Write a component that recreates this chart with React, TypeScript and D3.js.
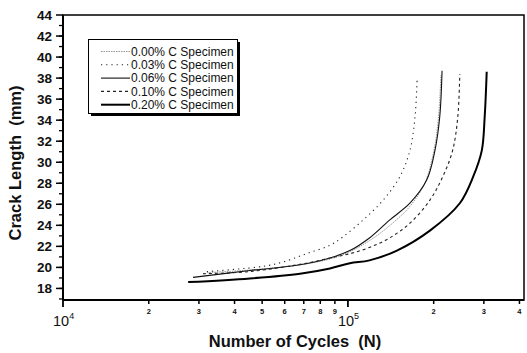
import React, { useRef, useEffect } from 'react';
import * as d3 from 'd3';

// crack length (mm) vs number of cycles
const cycles000 = [32000, 45000, 66000, 86500, 101600, 120000, 142000, 165000, 186000, 200000, 208000, 212000];
const crack000 = [19.5, 19.75, 20.2, 20.8, 21.5, 22.6, 24.1, 25.8, 28.0, 31.0, 34.3, 38.3];

const cycles003 = [32000, 50400, 59000, 71500, 86500, 96000, 113000, 133000, 152000, 165000, 172000, 175000];
const crack003 = [19.6, 20.1, 20.5, 21.3, 22.1, 22.9, 24.5, 26.4, 28.6, 31.1, 34.3, 38.0];

const cycles006 = [28600, 45300, 66200, 86500, 101600, 119000, 140000, 165000, 189000, 202000, 210000, 214000];
const crack006 = [19.05, 19.7, 20.2, 20.9, 21.6, 22.8, 24.5, 26.1, 28.3, 31.1, 34.3, 38.7];

const cycles010 = [31000, 45000, 71500, 86500, 101600, 119000, 140000, 165000, 194000, 215000, 233000, 243000, 247000];
const crack010 = [19.4, 19.6, 20.4, 20.9, 21.3, 21.9, 22.8, 24.2, 26.4, 28.6, 31.1, 34.3, 38.4];

const cycles020 = [27500, 45300, 67900, 86500, 101600, 119000, 148600, 194000, 247000, 275000, 295000, 302000, 307000];
const crack020 = [18.6, 18.95, 19.4, 19.9, 20.4, 20.67, 21.6, 23.5, 26.1, 28.6, 31.1, 34.3, 38.6];

const seriesNames = ['0.00% C Specimen', '0.03% C Specimen', '0.06% C Specimen', '0.10% C Specimen', '0.20% C Specimen'];

const yTicks = [18, 20, 22, 24, 26, 28, 30, 32, 34, 36, 38, 40, 42, 44];
const xMinorTicks = [2e4, 3e4, 4e4, 5e4, 6e4, 7e4, 8e4, 9e4, 2e5, 3e5, 4e5];
const xMajorTicks = [1e4, 1e5];

const FONT = '"Liberation Sans", Arial, sans-serif';

const App = () => {
  const ref = useRef(null);

  useEffect(() => {
    const svg = d3.select(ref.current);
    svg.selectAll('*').remove();

    const left = 63, right = 524, top = 15, bottom = 300;

    const x = d3.scaleLog().domain([1e4, 4.15e5]).range([left, right]);
    const y = d3.scaleLinear().domain([16.9, 44]).range([bottom, top]);

    const series = [
      { xs: cycles000, ys: crack000, color: '#8a8a8a', width: 0.9, dash: '1.5,1' },
      { xs: cycles003, ys: crack003, color: '#222', width: 1.1, dash: '1.2,4' },
      { xs: cycles006, ys: crack006, color: '#111', width: 1.1, dash: null },
      { xs: cycles010, ys: crack010, color: '#222', width: 1.1, dash: '3,3' },
      { xs: cycles020, ys: crack020, color: '#000', width: 2, dash: null },
    ];

    const line = d3
      .line()
      .x((d) => x(d[0]))
      .y((d) => y(d[1]))
      .curve(d3.curveCatmullRom.alpha(0.5));

    series.forEach((s) => {
      const pts = s.xs.map((v, i) => [v, s.ys[i]]);
      svg
        .append('path')
        .datum(pts)
        .attr('fill', 'none')
        .attr('stroke', s.color)
        .attr('stroke-width', s.width)
        .attr('stroke-dasharray', s.dash)
        .attr('d', line);
    });

    // frame
    svg
      .append('rect')
      .attr('x', left)
      .attr('y', top)
      .attr('width', right - left)
      .attr('height', bottom - top)
      .attr('fill', 'none')
      .attr('stroke', '#000')
      .attr('stroke-width', 1.5);
    svg.append('line').attr('x1', left).attr('x2', left).attr('y1', top).attr('y2', bottom)
      .attr('stroke', '#000').attr('stroke-width', 2);
    svg.append('line').attr('x1', left).attr('x2', right).attr('y1', bottom).attr('y2', bottom)
      .attr('stroke', '#000').attr('stroke-width', 2);

    // y axis ticks
    const yMinor = d3.range(17, 44, 1);
    svg.append('g').selectAll('line').data(yMinor).join('line')
      .attr('x1', left - 4).attr('x2', left)
      .attr('y1', (d) => y(d)).attr('y2', (d) => y(d))
      .attr('stroke', '#000').attr('stroke-width', 1.3);
    svg.append('g').selectAll('line').data(yTicks).join('line')
      .attr('x1', left - 7).attr('x2', left)
      .attr('y1', (d) => y(d)).attr('y2', (d) => y(d))
      .attr('stroke', '#000').attr('stroke-width', 1.5);
    svg.append('g').selectAll('text').data(yTicks).join('text')
      .attr('x', left - 11)
      .attr('y', (d) => y(d))
      .attr('dy', '0.36em')
      .attr('text-anchor', 'end')
      .attr('font-family', FONT)
      .attr('font-size', 13.5)
      .attr('font-weight', 'bold')
      .attr('fill', '#111')
      .text((d) => d);

    // x axis ticks
    svg.append('g').selectAll('line').data(xMinorTicks).join('line')
      .attr('x1', (d) => x(d)).attr('x2', (d) => x(d))
      .attr('y1', bottom).attr('y2', bottom + 4)
      .attr('stroke', '#000').attr('stroke-width', 1.5);
    svg.append('g').selectAll('line').data(xMajorTicks).join('line')
      .attr('x1', (d) => x(d)).attr('x2', (d) => x(d))
      .attr('y1', bottom).attr('y2', bottom + 7)
      .attr('stroke', '#000').attr('stroke-width', 1.8);
    svg.append('g').selectAll('text').data(xMinorTicks).join('text')
      .attr('x', (d) => x(d))
      .attr('y', bottom + 14)
      .attr('text-anchor', 'middle')
      .attr('font-family', FONT)
      .attr('font-size', 7.5)
      .attr('font-weight', 'bold')
      .attr('fill', '#111')
      .text((d) => String(d).charAt(0));
    const major = svg.append('g').selectAll('text').data(xMajorTicks).join('text')
      .attr('x', (d) => x(d) - 10)
      .attr('y', bottom + 26)
      .attr('font-family', FONT)
      .attr('font-size', 14.5)
      .attr('fill', '#111');
    major.append('tspan').text('10');
    major.append('tspan')
      .attr('dy', -7)
      .attr('font-size', 9)
      .text((d) => Math.round(Math.log10(d)));

    // axis titles
    svg.append('text')
      .attr('x', 295)
      .attr('y', 347)
      .attr('text-anchor', 'middle')
      .attr('font-family', FONT)
      .attr('font-size', 16.5)
      .attr('font-weight', 'bold')
      .attr('fill', '#111')
      .attr('xml:space', 'preserve')
      .text('Number of Cycles  (N)');
    svg.append('text')
      .attr('transform', 'translate(21,163) rotate(-90)')
      .attr('text-anchor', 'middle')
      .attr('font-family', FONT)
      .attr('font-size', 16.5)
      .attr('font-weight', 'bold')
      .attr('fill', '#111')
      .attr('xml:space', 'preserve')
      .text('Crack Length  (mm)');

    // legend
    const lg = svg.append('g');
    lg.append('rect').attr('x', 91).attr('y', 42).attr('width', 149).attr('height', 74).attr('fill', '#000');
    lg.append('rect').attr('x', 88.5).attr('y', 39.5).attr('width', 149).attr('height', 74)
      .attr('fill', '#fff').attr('stroke', '#000').attr('stroke-width', 1);
    const rows = lg.selectAll('g.row').data(series).join('g')
      .attr('transform', (d, i) => `translate(0, ${51.5 + i * 13.3})`);
    rows.append('line')
      .attr('x1', 101).attr('x2', 130).attr('y1', 0).attr('y2', 0)
      .attr('stroke', (d) => d.color)
      .attr('stroke-width', (d) => d.width)
      .attr('stroke-dasharray', (d) => d.dash);
    rows.append('text')
      .attr('x', 131)
      .attr('dy', '0.36em')
      .attr('font-family', FONT)
      .attr('font-size', 12)
      .attr('fill', '#111')
      .text((d, i) => seriesNames[i]);
  }, []);

  return (
    <svg
      ref={ref}
      width={527}
      height={353}
      style={{ position: 'absolute', left: 0, top: 0, background: '#fff' }}
    ></svg>
  );
};

export default App;
